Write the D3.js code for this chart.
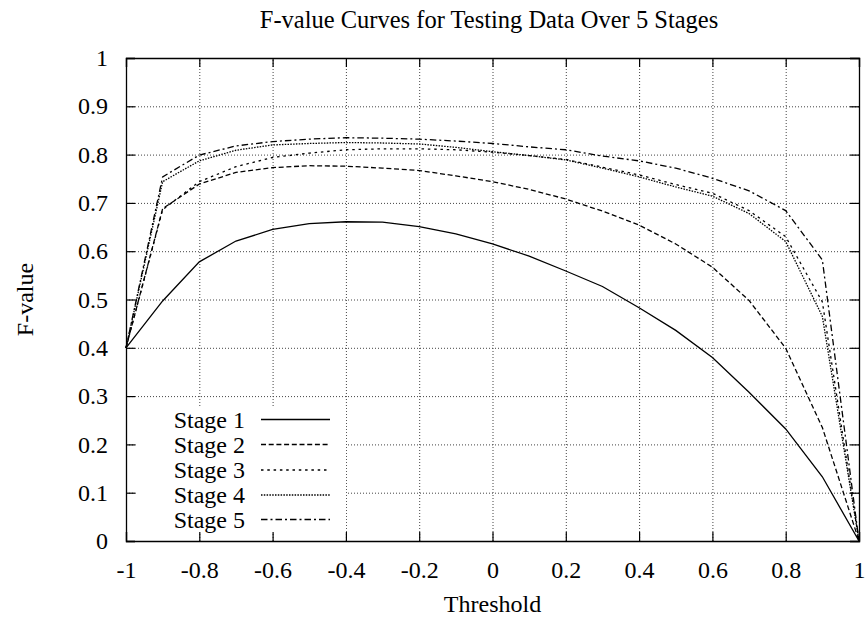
<!DOCTYPE html>
<html>
<head>
<meta charset="utf-8">
<script src="https://cdn.jsdelivr.net/npm/d3@7"></script>
<style>
  body { margin: 0; background: #fff; }
  svg { display: block; font-family: "Liberation Serif", "Times New Roman", serif; }
</style>
</head>
<body>
<svg id="chart"></svg>
<script>
const thresholds = [-1, -0.9, -0.8, -0.7, -0.6, -0.5, -0.4, -0.3, -0.2, -0.1, 0,
  0.1, 0.2, 0.3, 0.4, 0.5, 0.6, 0.7, 0.8, 0.9, 1];

const stage1 = [0.40, 0.497, 0.578, 0.621, 0.645, 0.657, 0.661, 0.660, 0.651, 0.636, 0.615,
  0.590, 0.559, 0.527, 0.483, 0.436, 0.380, 0.308, 0.232, 0.133, 0];
const stage2 = [0.40, 0.688, 0.739, 0.763, 0.773, 0.777, 0.776, 0.772, 0.767, 0.756, 0.744,
  0.728, 0.708, 0.683, 0.654, 0.615, 0.567, 0.498, 0.399, 0.235, 0];
const stage3 = [0.40, 0.686, 0.744, 0.775, 0.794, 0.803, 0.810, 0.812, 0.812, 0.810, 0.805,
  0.798, 0.790, 0.774, 0.758, 0.738, 0.720, 0.684, 0.630, 0.495, 0];
const stage4 = [0.40, 0.744, 0.787, 0.809, 0.820, 0.823, 0.825, 0.824, 0.822, 0.815, 0.806,
  0.798, 0.789, 0.772, 0.754, 0.733, 0.714, 0.678, 0.620, 0.465, 0];
const stage5 = [0.40, 0.754, 0.799, 0.818, 0.827, 0.832, 0.835, 0.834, 0.832, 0.828, 0.823,
  0.816, 0.810, 0.797, 0.787, 0.772, 0.751, 0.725, 0.684, 0.582, 0];

const stageNames = ["Stage 1", "Stage 2", "Stage 3", "Stage 4", "Stage 5"];
const xTicks = [-1, -0.8, -0.6, -0.4, -0.2, 0, 0.2, 0.4, 0.6, 0.8, 1];
const yTicks = [0, 0.1, 0.2, 0.3, 0.4, 0.5, 0.6, 0.7, 0.8, 0.9, 1];

const width = 865, height = 618;
const margin = { top: 58, right: 6, bottom: 77, left: 126 };
const fontSize = 24;

const svg = d3.select("#chart").attr("width", width).attr("height", height);

const x = d3.scaleLinear().domain([-1, 1]).range([margin.left, width - margin.right]);
const y = d3.scaleLinear().domain([0, 1]).range([height - margin.bottom, margin.top]);

const plotW = x.range()[1] - x.range()[0];
const plotH = y.range()[0] - y.range()[1];

// dotted grid
svg.append("g")
  .attr("transform", `translate(0,${y(0)})`)
  .call(d3.axisBottom(x).tickValues(xTicks).tickSize(-plotH).tickFormat(""))
  .call(g => g.select(".domain").remove())
  .selectAll("line").attr("stroke", "#444").attr("stroke-dasharray", "1,2");

svg.append("g")
  .attr("transform", `translate(${x(-1)},0)`)
  .call(d3.axisLeft(y).tickValues(yTicks).tickSize(-plotW).tickFormat(""))
  .call(g => g.select(".domain").remove())
  .selectAll("line").attr("stroke", "#444").attr("stroke-dasharray", "1,2");

// legend box blanks the grid behind it
svg.append("rect")
  .attr("x", 138).attr("y", 406)
  .attr("width", 208).attr("height", 127)
  .attr("fill", "#fff");

const series = [stage1, stage2, stage3, stage4, stage5];
const dashes = [null, "5,2.7", "2.5,3.8", "1.5,1.3", "6.5,3,2,3"];

const line = d3.line()
  .x((d, i) => x(thresholds[i]))
  .y(d => y(d));

svg.append("g")
  .selectAll("path")
  .data(series)
  .join("path")
  .attr("fill", "none")
  .attr("stroke", "#000")
  .attr("stroke-width", 1.3)
  .attr("stroke-dasharray", (d, i) => dashes[i])
  .attr("d", line);

// axes with inward ticks, mirrored on top and right
const tickLen = 9;
const plain = d => String(d); // hyphen minus like the original
const axisBottomG = svg.append("g")
  .attr("transform", `translate(0,${y(0)})`)
  .call(d3.axisBottom(x).tickValues(xTicks).tickSize(-tickLen).tickPadding(20).tickFormat(plain));
const axisLeftG = svg.append("g")
  .attr("transform", `translate(${x(-1)},0)`)
  .call(d3.axisLeft(y).tickValues(yTicks).tickSize(-tickLen).tickPadding(18).tickFormat(plain));
const axisTopG = svg.append("g")
  .attr("transform", `translate(0,${y(1)})`)
  .call(d3.axisTop(x).tickValues(xTicks).tickSize(-tickLen).tickFormat(""));
const axisRightG = svg.append("g")
  .attr("transform", `translate(${x(1)},0)`)
  .call(d3.axisRight(y).tickValues(yTicks).tickSize(-tickLen).tickFormat(""));

[axisBottomG, axisLeftG, axisTopG, axisRightG].forEach(g => {
  g.select(".domain").attr("stroke-width", 1.3);
  g.selectAll(".tick line").attr("stroke-width", 1.2);
  g.selectAll("text")
    .style("font-family", '"Liberation Serif", "Times New Roman", serif')
    .attr("font-size", fontSize)
    .attr("fill", "#000");
});

// titles
svg.append("text")
  .attr("x", 489)
  .attr("y", 28)
  .attr("text-anchor", "middle")
  .attr("font-size", 24.5)
  .text("F-value Curves for Testing Data Over 5 Stages");

svg.append("text")
  .attr("x", (x(-1) + x(1)) / 2)
  .attr("y", 612)
  .attr("text-anchor", "middle")
  .attr("font-size", fontSize)
  .text("Threshold");

svg.append("text")
  .attr("transform", `translate(33,${(y(0) + y(1)) / 2}) rotate(-90)`)
  .attr("text-anchor", "middle")
  .attr("font-size", fontSize)
  .text("F-value");

// legend
const legendY = [419.5, 444.5, 470, 495, 519.5];
const legend = svg.append("g")
  .selectAll("g")
  .data(stageNames)
  .join("g")
  .attr("transform", (d, i) => `translate(0,${legendY[i]})`);

legend.append("text")
  .attr("x", 245)
  .attr("dy", "0.35em")
  .attr("text-anchor", "end")
  .attr("font-size", fontSize)
  .text(d => d);

legend.append("line")
  .attr("x1", 261).attr("x2", 330)
  .attr("stroke", "#000")
  .attr("stroke-width", 1.3)
  .attr("stroke-dasharray", (d, i) => dashes[i]);
</script>
</body>
</html>
